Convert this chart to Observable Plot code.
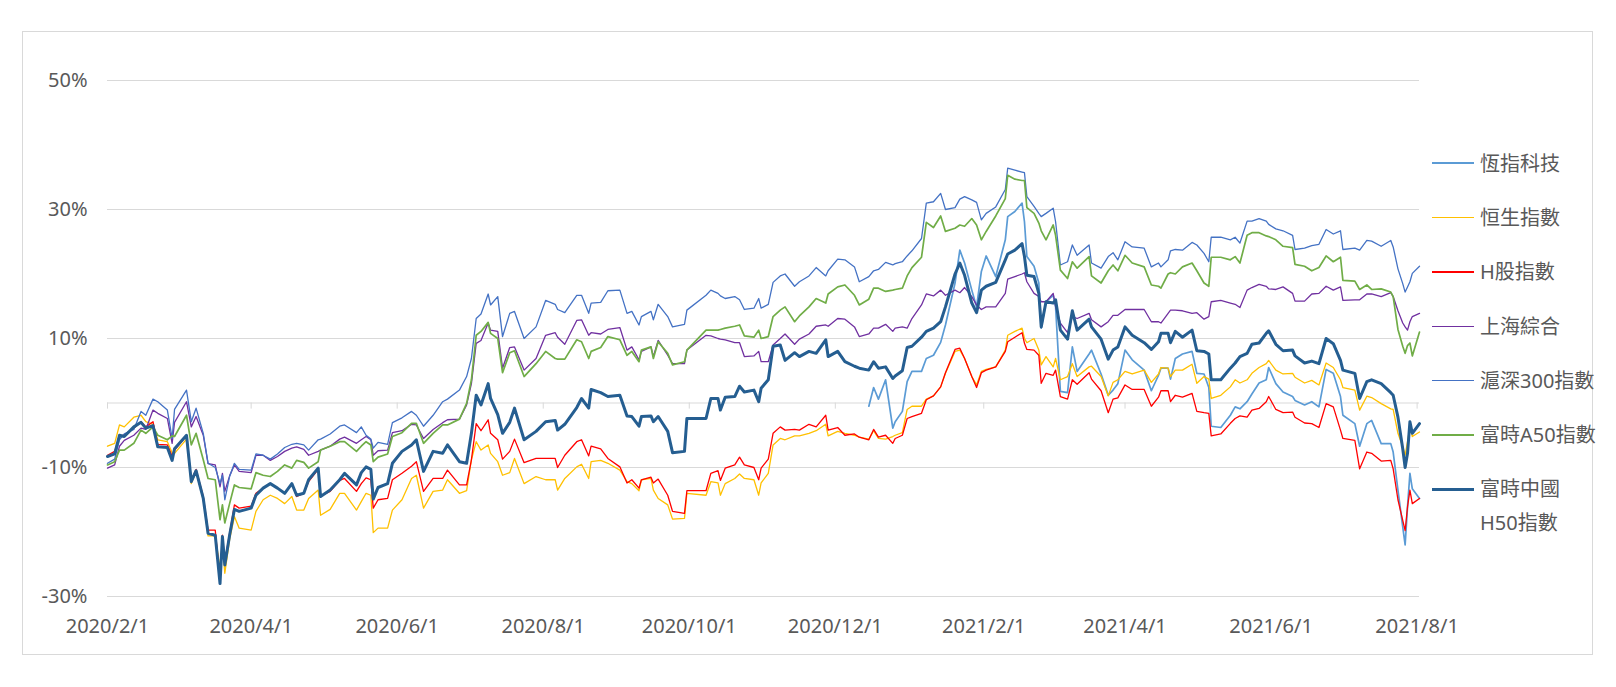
<!DOCTYPE html>
<html><head><meta charset="utf-8">
<script src="https://cdn.jsdelivr.net/npm/d3@7"></script>
<script src="https://cdn.jsdelivr.net/npm/@observablehq/plot@0.6"></script>
<style>
html,body{margin:0;padding:0;background:#fff;overflow:hidden;}
#wrap{position:relative;width:1616px;height:687px;font-family:"Noto Sans","Noto Sans CJK TC",sans-serif;}
#frame{position:absolute;left:22px;top:31px;width:1571px;height:624px;border:1px solid #D9D9D9;box-sizing:border-box;}
#chart{position:absolute;left:0;top:0;}
.leg{position:absolute;left:1432px;height:0;}
.leg .sw{position:absolute;left:0;width:42px;}
.leg .tx{position:absolute;left:48px;top:-16.7px;white-space:nowrap;font-size:20px;line-height:33.4px;color:#595959;}
</style></head><body>
<div id="wrap"><div id="frame"></div><div id="chart"></div><div id="legend"></div></div>
<script>
const dates = [
"2020-02-01","2020-02-04","2020-02-06","2020-02-08","2020-02-12","2020-02-15","2020-02-17","2020-02-20","2020-02-22","2020-02-26","2020-02-28","2020-02-29","2020-03-05","2020-03-07","2020-03-09","2020-03-12","2020-03-14","2020-03-17","2020-03-19","2020-03-20","2020-03-21","2020-03-23","2020-03-25","2020-03-27","2020-04-01","2020-04-03","2020-04-06","2020-04-09","2020-04-12","2020-04-15","2020-04-18","2020-04-20","2020-04-23","2020-04-25","2020-04-29","2020-04-30","2020-05-04",
"2020-05-08","2020-05-10","2020-05-15","2020-05-17","2020-05-19","2020-05-21","2020-05-22","2020-05-24","2020-05-28","2020-05-30","2020-06-03","2020-06-07","2020-06-09","2020-06-12","2020-06-16","2020-06-20","2020-06-22","2020-06-27","2020-06-30","2020-07-02","2020-07-04","2020-07-06","2020-07-09","2020-07-10","2020-07-13","2020-07-15","2020-07-18","2020-07-20","2020-07-24","2020-07-29","2020-08-02","2020-08-06",
"2020-08-07","2020-08-10","2020-08-15","2020-08-17","2020-08-20","2020-08-21","2020-08-25","2020-08-28","2020-09-02","2020-09-05","2020-09-07","2020-09-10","2020-09-11","2020-09-15","2020-09-16","2020-09-18","2020-09-22","2020-09-24","2020-09-29","2020-09-30","2020-10-08","2020-10-10","2020-10-13","2020-10-14","2020-10-16","2020-10-20","2020-10-22","2020-10-24","2020-10-28","2020-10-30","2020-10-31","2020-11-03","2020-11-05","2020-11-08",
"2020-11-10","2020-11-14","2020-11-16","2020-11-20","2020-11-23","2020-11-27","2020-11-28","2020-12-02","2020-12-05","2020-12-09","2020-12-11","2020-12-15","2020-12-17","2020-12-19","2020-12-22","2020-12-25","2020-12-26","2020-12-29","2020-12-31","2021-01-02","2021-01-06","2021-01-08","2021-01-11","2021-01-14","2021-01-16","2021-01-20","2021-01-22","2021-01-24","2021-01-27","2021-01-29","2021-01-31","2021-02-02","2021-02-06","2021-02-10",
"2021-02-11","2021-02-14","2021-02-17","2021-02-18","2021-02-19","2021-02-22","2021-02-24","2021-02-25","2021-02-27","2021-03-02","2021-03-03","2021-03-05","2021-03-08","2021-03-10","2021-03-12","2021-03-17","2021-03-18","2021-03-22","2021-03-25","2021-03-27","2021-03-29","2021-04-01","2021-04-04","2021-04-09","2021-04-12","2021-04-15","2021-04-16","2021-04-19","2021-04-20","2021-04-22","2021-04-25","2021-04-29","2021-05-01","2021-05-04","2021-05-06","2021-05-07","2021-05-11","2021-05-15",
"2021-05-17","2021-05-19","2021-05-22","2021-05-24","2021-05-27","2021-05-30","2021-05-31","2021-06-03","2021-06-06","2021-06-10","2021-06-11","2021-06-15","2021-06-18","2021-06-21","2021-06-24","2021-06-27","2021-06-30","2021-07-01","2021-07-06","2021-07-08","2021-07-11","2021-07-13","2021-07-17","2021-07-21","2021-07-22","2021-07-24","2021-07-26","2021-07-27","2021-07-28","2021-07-29","2021-07-30","2021-08-02"
];

// 恆指科技 starts 2020-12-15 (aligned to the last entries of dates)
const hsTech = [
-0.5,2.4,0.6,3.6,-3.9,-2.9,-1.3,3.3,4.9,4.9,6.9,7.4,9.4,12.1,18.6,23.7,21.7,17.5,14.9,20.4,22.8,19.6,25.3,
28.9,29.7,31.0,28.1,22.7,21.2,18.6,11.6,15.7,16.7,14.9,1.8,1.6,8.7,4.9,7.6,8.2,4.5,1.2,2.0,3.0,8.2,6.7,5.1,1.9,4.3,5.4,5.4,3.7,6.9,7.6,8.0,4.6,4.5,2.4,-3.6,-3.8,-1.9,
-0.6,-0.9,0.2,1.4,3.1,3.6,5.5,3.0,1.7,1.0,0.4,-0.3,0.2,-0.6,5.2,4.6,1.0,-1.9,-3.2,-6.7,-3.2,-2.7,-6.3,-6.3,-7.6,-13.5,-19.2,-22.0,-16.1,-10.9,-13.3,-14.8
];

const hsi = [
-6.7,-6.25,-3.4,-3.7,-2.2,-1.9,-2.9,-3.3,-5.7,-6.0,-7.7,-7.8,-5.6,-12.5,-10.6,-15.0,-20.6,-20.6,-25.6,-22.0,-26.4,-21.2,-17.6,-19.4,-19.7,-16.8,-15.0,-14.3,-14.8,-15.6,-14.5,-16.6,-16.6,-14.8,-13.5,-17.4,-16.5,
-14.0,-14.0,-16.6,-15.3,-14.0,-14.3,-20.1,-19.4,-19.4,-16.6,-15.0,-11.7,-11.2,-16.3,-13.7,-13.5,-11.9,-14.0,-13.6,-8.8,-6.0,-7.3,-6.5,-7.8,-9.1,-11.2,-10.8,-8.6,-12.5,-11.4,-11.9,-11.9,
-13.5,-11.7,-9.9,-9.5,-11.7,-9.1,-8.9,-9.35,-10.4,-12.2,-12.5,-13.6,-11.9,-11.7,-13.5,-14.8,-15.8,-18.0,-17.9,-14.0,-14.3,-12.2,-12.4,-14.3,-12.5,-11.7,-11.0,-11.7,-11.9,-14.3,-12.4,-10.9,-6.5,-5.5,
-5.7,-5.1,-5.1,-4.7,-4.3,-3.3,-5.1,-4.4,-4.7,-5.0,-5.3,-5.6,-4.3,-5.5,-5.6,-5.2,-5.0,-4.6,-1.0,-0.5,-0.5,0.6,1.1,2.5,4.6,8.0,8.2,6.9,4.1,2.8,4.9,5.2,5.6,8.2,
10.5,11.1,11.6,10.0,9.35,10.0,8.2,5.9,7.2,5.6,6.9,3.6,4.1,6.1,4.1,5.6,5.7,4.1,1.1,3.2,3.6,4.9,4.5,5.1,3.2,4.5,5.5,5.4,4.1,5.1,5.1,6.0,3.05,4.1,3.7,0.7,1.2,2.5,
3.6,3.1,3.6,4.6,5.5,6.1,6.6,5.1,4.5,4.6,4.0,3.1,3.5,2.8,6.2,5.5,3.6,2.4,2.0,-1.1,1.05,0.85,-0.1,-0.9,-1.0,-4.7,-6.8,-8.1,-6.0,-3.7,-5.2,-4.5
];

const hscei = [
-8.1,-7.5,-5.1,-5.0,-3.9,-2.9,-3.7,-2.9,-6.4,-6.5,-8.2,-7.3,-5.1,-11.9,-10.3,-14.5,-19.7,-19.7,-27.4,-20.5,-24.6,-20.2,-15.8,-16.3,-16.0,-14.0,-13.2,-12.5,-13.2,-14.0,-12.5,-14.5,-14.0,-12.2,-10.3,-14.4,-13.7,
-12.0,-11.7,-13.7,-12.5,-11.6,-11.9,-16.3,-15.0,-14.8,-11.9,-10.9,-9.8,-9.1,-13.7,-11.7,-11.7,-10.4,-12.7,-12.7,-8.8,-3.2,-4.3,-2.6,-4.7,-5.7,-8.7,-7.5,-5.6,-9.25,-8.6,-8.6,-8.6,
-10.0,-8.1,-6.0,-5.7,-8.2,-6.7,-7.1,-8.6,-9.9,-12.4,-11.9,-13.2,-11.9,-11.5,-12.4,-11.8,-14.3,-16.8,-17.1,-13.6,-13.6,-10.9,-10.5,-12.0,-10.1,-9.6,-8.4,-9.6,-10.0,-11.9,-10.1,-8.7,-4.7,-3.7,
-4.2,-4.1,-4.2,-3.3,-3.7,-1.9,-4.2,-3.8,-5.0,-4.8,-5.3,-5.7,-4.1,-5.3,-5.0,-6.25,-5.5,-5.0,-2.4,-2.1,-1.6,0.5,1.1,2.5,4.7,8.3,8.5,6.9,4.1,2.4,4.7,5.1,5.6,8.0,
9.5,10.2,10.9,9.25,8.3,8.2,7.4,3.05,4.6,4.3,5.1,1.0,0.6,3.6,2.9,4.7,3.7,1.9,-1.5,0.6,0.8,2.8,2.1,2.1,-0.5,0.9,1.9,1.9,0.2,1.2,0.9,1.5,-1.3,-1.5,-1.6,-5.1,-4.8,-3.15,
-2.4,-2.0,-2.2,-1.1,-0.85,0.2,1.0,-1.0,-1.5,-1.4,-2.2,-3.1,-3.2,-3.8,-0.1,-0.6,-4.2,-5.5,-5.8,-10.2,-7.6,-7.8,-9.0,-8.9,-10.2,-15.0,-18.2,-19.8,-16.1,-13.5,-15.6,-14.8
];

const shComp = [
-10.1,-9.6,-6.7,-5.8,-5.0,-3.9,-4.1,-1.1,-1.6,-2.4,-6.25,-3.0,0.2,-3.7,-2.1,-5.0,-9.4,-9.6,-13.0,-10.9,-13.7,-11.3,-9.6,-10.6,-10.8,-8.1,-8.1,-8.9,-8.3,-7.5,-7.0,-6.8,-7.2,-8.1,-7.5,-7.3,-6.7,
-5.6,-5.3,-6.25,-5.7,-5.2,-5.7,-8.1,-7.4,-7.3,-4.6,-4.3,-3.3,-3.4,-5.5,-4.1,-3.05,-2.6,-2.5,-0.3,3.0,9.25,9.7,12.4,11.3,11.1,5.4,8.6,8.7,5.1,6.9,10.5,10.9,
10.2,9.1,12.8,12.9,10.5,10.9,10.7,11.4,11.7,8.2,8.7,6.7,8.0,8.7,7.2,9.7,7.4,6.1,6.1,8.2,10.5,10.4,10.0,9.9,9.8,9.35,9.35,7.2,7.3,8.0,6.4,6.4,9.0,10.0,
10.7,9.1,9.9,10.7,11.9,12.1,11.9,13.1,13.0,11.8,10.3,10.7,11.6,11.6,12.2,11.1,11.6,11.8,11.6,13.1,15.2,16.9,16.6,17.5,16.7,17.5,17.1,17.9,16.5,15.2,14.5,14.9,14.9,17.0,
19.2,19.6,20.0,20.2,18.8,17.0,16.5,15.7,15.7,17.0,14.9,12.4,10.9,13.4,13.1,13.9,12.9,11.8,12.6,13.6,13.6,14.5,14.5,14.5,12.6,12.6,12.4,13.9,14.4,14.4,14.3,13.9,14.0,13.0,13.4,15.7,15.9,15.5,
15.3,14.8,17.5,17.9,18.4,18.1,17.7,17.6,18.0,17.0,15.8,15.8,16.9,17.0,18.1,17.5,18.0,15.9,16.0,16.0,16.9,16.9,16.5,17.1,16.5,14.3,12.4,11.8,11.3,12.6,13.4,13.9
];

const csi300 = [
-9.35,-8.7,-5.7,-4.8,-4.1,-1.3,-1.9,0.6,0.2,-1.1,-5.5,-1.0,2.0,-2.9,-0.8,-4.7,-9.35,-10.0,-12.5,-11.2,-15.0,-11.4,-9.35,-10.3,-10.4,-7.9,-8.1,-8.7,-7.9,-6.9,-6.4,-6.25,-6.5,-7.3,-5.7,-5.6,-4.8,
-3.6,-3.4,-4.6,-3.7,-5.0,-5.6,-7.0,-6.1,-6.4,-3.05,-2.3,-1.3,-1.9,-3.6,-1.9,0.2,0.6,2.0,4.1,6.9,13.1,13.8,16.9,15.2,16.5,10.3,13.9,14.2,10.0,11.8,15.9,15.3,
14.5,14.0,16.7,16.7,13.9,15.5,15.6,17.4,17.5,13.9,14.2,12.1,13.4,14.2,12.9,15.3,13.4,11.8,12.2,14.4,16.7,17.5,17.0,16.6,16.2,16.5,16.0,14.5,14.7,16.2,14.7,15.3,18.7,19.7,
20.0,18.1,18.8,19.7,21.0,19.7,20.5,22.3,22.2,21.1,18.8,19.6,20.5,20.7,21.8,21.4,21.6,21.9,22.8,23.6,25.5,31.0,31.2,32.5,30.0,30.3,31.6,32.0,31.5,31.1,28.4,29.4,30.4,33.1,
36.4,36.1,35.8,35.7,32.0,30.5,29.4,28.9,29.4,30.2,28.1,21.4,21.9,24.5,22.9,24.5,21.7,20.9,22.7,23.3,22.2,25.0,24.2,24.0,21.1,21.7,21.1,22.2,23.6,23.8,23.7,24.9,24.5,23.2,21.9,25.7,25.7,25.3,
25.7,24.8,28.2,28.2,28.6,28.2,27.7,27.0,26.7,26.0,23.8,24.0,24.4,24.6,26.9,26.2,26.7,23.8,24.0,23.7,25.2,25.1,24.3,25.2,24.2,20.8,18.5,17.2,18.0,18.8,20.1,21.2
];

const ftseA50 = [
-9.6,-9.1,-7.3,-7.3,-6.25,-4.2,-4.7,-3.7,-5.0,-5.7,-5.1,-5.2,-1.9,-6.5,-4.7,-8.8,-11.7,-11.9,-18.1,-15.8,-18.6,-15.6,-12.7,-13.1,-13.3,-10.8,-11.2,-11.4,-10.6,-9.6,-10.1,-8.9,-9.2,-10.1,-9.1,-7.3,-6.7,
-6.0,-6.0,-7.5,-6.7,-6.0,-6.5,-9.1,-8.4,-7.9,-5.2,-4.6,-3.15,-3.15,-6.25,-4.7,-3.4,-3.4,-2.5,-0.05,3.6,10.5,11.1,12.5,10.8,10.0,4.7,7.8,8.1,4.1,6.1,8.0,6.9,
6.8,6.8,9.8,9.5,6.9,8.0,8.6,10.3,9.8,7.4,8.0,6.4,8.2,8.7,6.9,9.5,7.7,5.9,6.4,8.2,11.3,11.3,11.3,11.4,11.6,11.9,12.1,10.4,10.2,11.3,10.0,10.3,13.4,14.4,
14.9,12.6,13.5,14.9,16.2,15.5,16.9,18.0,18.3,16.7,15.2,16.1,17.8,17.8,17.3,17.5,17.6,17.8,19.7,21.0,22.6,28.0,27.2,29.0,26.6,27.1,27.6,27.4,28.6,27.6,25.3,26.6,29.0,31.7,
35.3,34.7,34.5,34.5,30.3,29.4,27.9,26.7,25.3,27.6,26.0,20.6,19.3,21.9,20.9,22.7,19.7,18.6,20.5,21.4,20.5,22.9,21.7,21.1,18.3,18.1,17.8,20.0,20.2,20.0,21.1,21.7,20.5,18.6,18.1,22.6,22.6,22.2,
22.7,21.7,26.0,26.4,26.4,25.9,25.8,25.3,24.3,24.1,21.5,21.2,20.5,21.0,22.8,21.9,22.6,19.0,18.9,17.6,18.3,17.6,17.7,17.2,16.5,11.4,8.8,7.7,8.9,9.3,7.3,11.0
];

const ftseH50 = [
-8.3,-7.9,-5.0,-5.2,-3.7,-3.0,-3.9,-3.5,-6.8,-6.9,-8.9,-7.1,-5.0,-12.2,-10.5,-14.8,-20.2,-20.5,-28.0,-20.7,-25.1,-20.5,-16.5,-16.8,-16.3,-14.3,-13.2,-12.5,-13.2,-14.0,-12.5,-14.3,-14.0,-11.9,-10.1,-14.5,-13.5,
-11.9,-10.9,-12.7,-10.8,-9.9,-10.3,-14.9,-13.1,-12.5,-9.35,-7.5,-6.5,-5.7,-10.6,-7.5,-7.8,-6.5,-9.1,-9.35,-4.7,1.2,-0.3,3.0,0.7,-1.8,-4.7,-3.0,-0.8,-5.7,-4.4,-2.9,-2.7,
-4.2,-3.3,-0.7,0.7,-0.8,2.1,1.6,1.0,1.2,-2.0,-2.1,-3.6,-2.1,-2.0,-2.9,-2.1,-4.4,-7.7,-7.5,-2.4,-2.4,0.7,0.7,-1.1,0.9,1.0,2.6,1.7,2.0,0.2,2.3,3.6,8.8,9.0,
6.6,7.8,7.2,8.0,7.7,9.8,7.2,8.0,6.4,5.7,5.4,5.1,6.4,5.4,5.6,3.8,4.2,5.0,8.6,8.8,10.2,11.1,11.6,12.6,14.9,20.0,21.7,19.8,15.5,14.0,17.5,18.1,18.7,22.2,
23.1,23.7,24.7,22.7,19.8,19.6,17.0,11.8,15.7,15.5,16.0,11.3,9.9,14.3,11.3,13.0,11.8,9.9,6.8,8.2,8.7,11.8,10.5,9.35,8.3,9.5,10.8,10.8,9.35,11.1,10.2,11.3,8.1,8.0,7.6,3.6,3.6,5.4,
6.2,7.2,7.7,9.1,9.3,10.8,11.2,9.1,8.1,8.2,7.3,6.2,6.5,6.1,10.0,9.2,6.6,5.1,4.6,0.7,3.3,3.6,3.0,1.6,1.2,-2.2,-7.1,-10.0,-7.8,-2.9,-4.7,-3.2
];

const seriesNames = ["恆指科技","恒生指數","H股指數","上海綜合","滬深300指數","富時A50指數","富時中國H50指數"];
const legendLines = [["恆指科技"],["恒生指數"],["H股指數"],["上海綜合"],["滬深300指數"],["富時A50指數"],["富時中國","H50指數"]];
const seriesValues = [hsTech, hsi, hscei, shComp, csi300, ftseA50, ftseH50];
const seriesColors = ["#5B9BD5","#FFC000","#FF0000","#7030A0","#4472C4","#70AD47","#255E91"];
const seriesWidths = [1.7,1.3,1.3,1.3,1.3,1.7,3];

const yTicks = [-30,-10,10,30,50];
const xTickLabels = ["2020-02-01","2020-04-01","2020-06-01","2020-08-01","2020-10-01","2020-12-01","2021-02-01","2021-04-01","2021-06-01","2021-08-01"];
const xDomain = ["2020-02-01","2021-08-02"];

const xTicks = xTickLabels.map(d => new Date(d));
const fmtDate = d => `${d.getUTCFullYear()}/${d.getUTCMonth()+1}/${d.getUTCDate()}`;

const lineMarks = seriesValues.map((vals, k) => {
  const ds = dates.slice(dates.length - vals.length);
  const data = vals.map((v, i) => ({date: new Date(ds[i]), value: v, series: seriesNames[k]}));
  return Plot.line(data, {x: "date", y: "value", stroke: seriesColors[k], strokeWidth: seriesWidths[k]});
});

const chart = Plot.plot({
  width: 1616, height: 687,
  marginLeft: 107, marginRight: 197, marginTop: 80, marginBottom: 91,
  style: {fontSize: "20px", fontFamily: '"Noto Sans","Noto Sans CJK TC",sans-serif', color: "#595959", background: "none", overflow: "visible"},
  x: {type: "utc", domain: xDomain.map(d => new Date(d)), ticks: xTicks, tickFormat: fmtDate, tickSize: 0, tickPadding: 22, label: null},
  y: {domain: [-30, 50], ticks: yTicks, tickFormat: d => `${d}%`, tickSize: 0, tickPadding: 20, label: null},
  marks: [
    Plot.ruleY(yTicks, {stroke: "#D9D9D9", strokeWidth: 1}),
    Plot.ruleY([0], {stroke: "#D9D9D9", strokeWidth: 1}),
    Plot.ruleX(xTicks, {y1: 0, y2: -0.95, stroke: "#D9D9D9", strokeWidth: 1}),
    ...lineMarks
  ]
});
document.getElementById("chart").appendChild(chart);

// legend
const legend = document.getElementById("legend");
const legTop = 163.3, legStep = 54.3;
seriesNames.forEach((name, k) => {
  const item = document.createElement("div");
  item.className = "leg";
  item.style.top = (legTop + k * legStep) + "px";
  const sw = document.createElement("div");
  sw.className = "sw";
  sw.style.height = seriesWidths[k] + "px";
  sw.style.top = (-seriesWidths[k] / 2) + "px";
  sw.style.background = seriesColors[k];
  const tx = document.createElement("div");
  tx.className = "tx";
  tx.innerHTML = legendLines[k].join("<br>");
  item.appendChild(sw);
  item.appendChild(tx);
  legend.appendChild(item);
});
</script></body></html>
